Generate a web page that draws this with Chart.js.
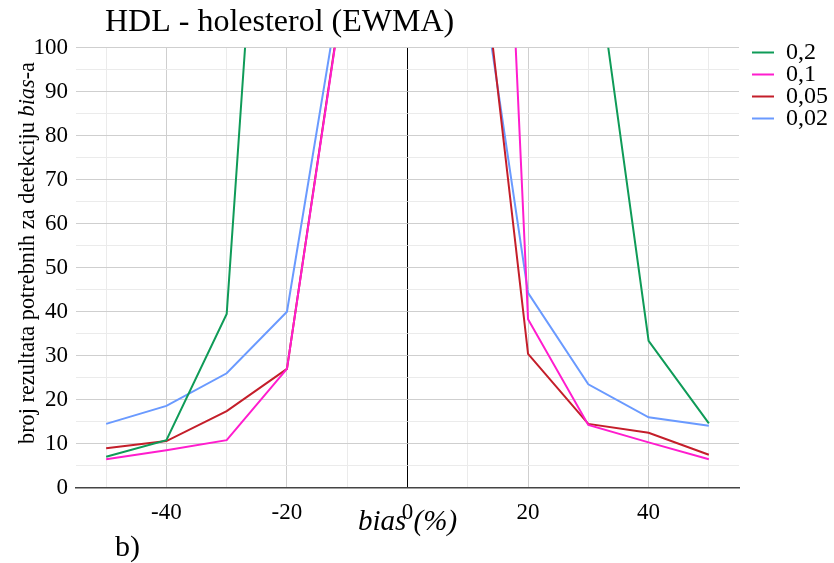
<!DOCTYPE html>
<html><head><meta charset="utf-8">
<script src="https://cdn.jsdelivr.net/npm/chart.js@4.4.1/dist/chart.umd.min.js"></script>
<style>html,body{margin:0;padding:0;background:#fff;} canvas{display:block;}</style>
</head><body>
<canvas id="c" width="834" height="563"></canvas>
<script>
// ---- data ----
const biasValues = [-50, -40, -30, -20, -10, 0, 10, 20, 30, 40, 50];
const seriesLabels = ['0,2', '0,1', '0,05', '0,02'];
const ewma02  = [7.05, 10.8, 39.5, 238, 500, null, 500, 300, 133, 33.4, 14.6];
const ewma01  = [6.45, 8.5, 10.8, 27, 119, null, 340, 38.3, 14.25, 10.3, 6.45];
const ewma005 = [8.95, 10.6, 17.4, 27, 119.5, null, 150, 30.4, 14.5, 12.5, 7.5];
const ewma002 = [14.5, 18.6, 26.0, 40.0, 123, null, 137, 44.3, 23.5, 16.0, 14.1];
const xGridValues = [-50, -40, -30, -20, -10, 0, 10, 20, 30, 40, 50];
const xTickLabels = [-40, -20, 0, 20, 40];
const yTickLabels = [0, 10, 20, 30, 40, 50, 60, 70, 80, 90, 100];
const chartTitle = 'HDL - holesterol (EWMA)';
const xAxisTitle = 'bias (%)';
const yAxisTitleParts = ['broj rezultata potrebnih za detekciju ', 'bias', '-a'];
const panelLabel = 'b)';

const seriesColors = ['#0f9b58', '#ff1dce', '#c41e2a', '#6a9aff'];
const FAMILY = '"Liberation Serif", "Times New Roman", serif';

const allSeries = [ewma02, ewma01, ewma005, ewma002];
const datasets = allSeries.map((arr, i) => ({
  label: seriesLabels[i],
  data: biasValues.map((x, j) => ({ x: x, y: arr[j] })),
  borderColor: seriesColors[i],
  backgroundColor: seriesColors[i],
  borderWidth: 2,
  pointRadius: 0,
  tension: 0,
  spanGaps: false
}));

const fixPositions = {
  id: 'fixPositions',
  afterLayout(chart) {
    if (chart.titleBlock) chart.titleBlock.left = 105;
    const lg = chart.legend;
    if (lg) { lg.left = 752; lg.right = 834; lg.top = 42.5; }
  }
};

const extraText = {
  id: 'extraText',
  afterDraw(chart) {
    const ctx = chart.ctx;
    ctx.save();
    const size = 22.3;
    const normal = size + 'px ' + FAMILY;
    const italic = 'italic ' + size + 'px ' + FAMILY;
    ctx.font = normal;
    const w0 = ctx.measureText(yAxisTitleParts[0]).width;
    const w2 = ctx.measureText(yAxisTitleParts[2]).width;
    ctx.font = italic;
    const w1 = ctx.measureText(yAxisTitleParts[1]).width;
    const total = w0 + w1 + w2;
    ctx.translate(28, 253);
    ctx.rotate(-Math.PI / 2);
    ctx.textBaseline = 'middle';
    ctx.textAlign = 'left';
    ctx.fillStyle = '#000';
    let x = -total / 2;
    ctx.font = normal; ctx.fillText(yAxisTitleParts[0], x, 0); x += w0;
    ctx.font = italic; ctx.fillText(yAxisTitleParts[1], x, 0); x += w1;
    ctx.font = normal; ctx.fillText(yAxisTitleParts[2], x, 0);
    ctx.restore();

    ctx.save();
    ctx.font = '30px ' + FAMILY;
    ctx.fillStyle = '#000';
    ctx.textAlign = 'left';
    ctx.textBaseline = 'alphabetic';
    ctx.fillText(panelLabel, 115, 556);
    ctx.restore();
  }
};

new Chart(document.getElementById('c'), {
  type: 'line',
  data: { datasets: datasets },
  plugins: [fixPositions, extraText],
  options: {
    responsive: false,
    animation: false,
    devicePixelRatio: 1,
    layout: { padding: { left: 0, right: 9, top: 0, bottom: 0 } },
    plugins: {
      title: {
        display: true,
        text: chartTitle,
        align: 'start',
        color: '#000',
        font: { family: FAMILY, size: 32, weight: 'normal' },
        padding: { top: 3, bottom: 6.3 }
      },
      legend: {
        display: true,
        position: 'right',
        align: 'start',
        labels: {
          usePointStyle: true,
          pointStyle: 'line',
          pointStyleWidth: 24,
          color: '#000',
          padding: -2,
          font: { family: FAMILY, size: 24 }
        }
      },
      tooltip: { enabled: false }
    },
    scales: {
      x: {
        type: 'linear',
        min: -55,
        max: 55,
        afterBuildTicks: (s) => { s.ticks = xGridValues.map(v => ({ value: v })); },
        afterFit: (s) => { s.height = 75.3; },
        ticks: {
          autoSkip: false,
          maxRotation: 0,
          padding: 11,
          color: '#000',
          font: { family: FAMILY, size: 23 },
          callback: (v) => xTickLabels.includes(v) ? String(v) : ''
        },
        grid: {
          drawTicks: false,
          lineWidth: 1,
          color: (c) => {
            const v = c.tick ? c.tick.value : null;
            if (v === 0) return '#000';
            if (v !== null && v % 20 === 0) return '#cfcfcf';
            return '#ebebeb';
          }
        },
        border: { display: true, color: '#444', width: 1.5 },
        title: {
          display: true,
          text: xAxisTitle,
          color: '#000',
          font: { family: FAMILY, size: 29, style: 'italic' },
          padding: { top: 0, bottom: 23 }
        }
      },
      y: {
        type: 'linear',
        min: 0,
        max: 100,
        afterFit: (s) => { s.width = 76; },
        afterBuildTicks: (s) => {
          const t = [];
          for (let v = 0; v <= 100; v += 5) t.push({ value: v });
          s.ticks = t;
        },
        ticks: {
          autoSkip: false,
          padding: 8,
          color: '#000',
          font: { family: FAMILY, size: 23 },
          callback: (v) => yTickLabels.includes(v) ? String(v) : ''
        },
        grid: {
          drawTicks: false,
          lineWidth: 1,
          color: (c) => {
            const v = c.tick ? c.tick.value : null;
            if (v !== null && v % 10 === 0) return '#cfcfcf';
            return '#ebebeb';
          }
        },
        border: { display: false }
      }
    }
  }
});
</script>
</body></html>
